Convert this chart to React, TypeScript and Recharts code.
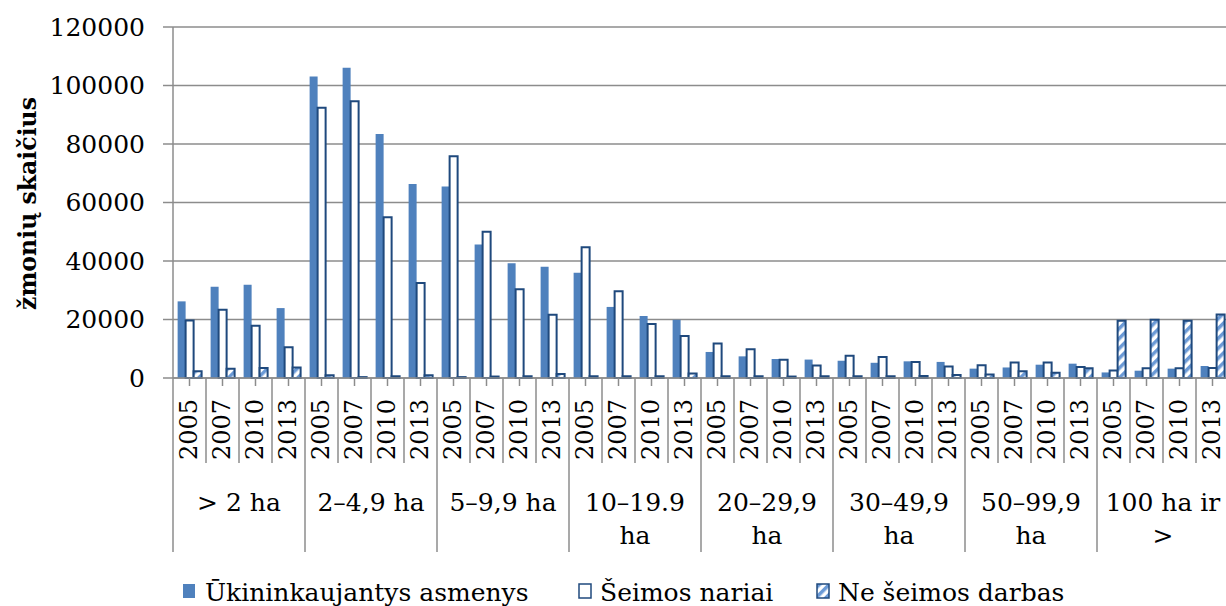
import React from 'react';
import { BarChart, Bar, XAxis, YAxis, CartesianGrid } from 'recharts';

const YEARS = ['2005', '2007', '2010', '2013'];
const GROUPS: string[][] = [
  ['> 2 ha'],
  ['2–4,9 ha'],
  ['5–9,9 ha'],
  ['10–19.9', 'ha'],
  ['20–29,9', 'ha'],
  ['30–49,9', 'ha'],
  ['50–99,9', 'ha'],
  ['100 ha ir', '>'],
];
const FARMERS = [
  26200, 31200, 31900, 23900,
  103100, 106100, 83400, 66300,
  65500, 45600, 39200, 38000,
  36000, 24300, 21200, 19900,
  8900, 7400, 6500, 6300,
  5900, 5200, 5700, 5500,
  3200, 3600, 4550, 4900,
  1900, 2500, 3200, 4100,
];
const FAMILY = [
  19700, 23300, 17900, 10500,
  92400, 94600, 55000, 32500,
  75800, 50000, 30300, 21600,
  44700, 29700, 18500, 14400,
  11800, 9800, 6200, 4300,
  7600, 7200, 5500, 3900,
  4400, 5300, 5300, 3800,
  2600, 3300, 3300, 3400,
];
const NON_FAMILY = [
  2300, 3200, 3400, 3600,
  900, 300, 600, 900,
  300, 500, 600, 1400,
  600, 600, 600, 1500,
  600, 600, 500, 600,
  600, 600, 700, 1000,
  1200, 2300, 1800, 3300,
  19600, 19900, 19600, 21700,
];
const Y_TICKS = [0, 20000, 40000, 60000, 80000, 100000, 120000];
const SERIES_NAMES = ['Ūkininkaujantys asmenys', 'Šeimos nariai', 'Ne šeimos darbas'];
const Y_LABEL = 'žmonių skaičius';

const FONT = 'DejaVu Serif';
const GRID = '#8c8c8c';
const BLUE = '#4F81BD';
const DARK = '#1F497D';
const STRIPE = '#6B9AD6';

const CHART_W = 1229;
const CHART_H = 606;
const LEFT = 173;
const TOP = 27;
const X_AXIS_H = 228;
const BAND = (CHART_W - LEFT) / (GROUPS.length * YEARS.length);

const data = GROUPS.flatMap((g, gi) =>
  YEARS.map((y, yi) => {
    const idx = gi * YEARS.length + yi;
    return {
      idx,
      year: y,
      group: g.join(' '),
      farmers: FARMERS[idx],
      family: FAMILY[idx],
      nonFamily: NON_FAMILY[idx],
    };
  })
);

function XTick(props: any) {
  const { x, y, payload } = props;
  const i: number = typeof payload.index === 'number' ? payload.index : Number(payload.value);
  const yi = i % YEARS.length;
  const gi = Math.floor(i / YEARS.length);
  const left = x - BAND / 2;
  const right = x + BAND / 2;
  const isLast = i === GROUPS.length * YEARS.length - 1;
  return (
    <g>
      <line x1={x} y1={y} x2={x} y2={y + 8} stroke={GRID} strokeWidth={1.5} />
      <line x1={left} y1={y} x2={left} y2={yi === 0 ? y + 174 : y + 85} stroke={GRID} strokeWidth={1.5} />
      {isLast && <line x1={right} y1={y} x2={right} y2={y + 174} stroke={GRID} strokeWidth={1.5} />}
      <text
        x={x + 7.5}
        y={y + 82}
        transform={`rotate(-90, ${x + 7.5}, ${y + 82})`}
        fontFamily={FONT}
        fontSize={24}
        fill="#000"
        textAnchor="start"
      >
        {YEARS[yi]}
      </text>
      {yi === 1 &&
        GROUPS[gi].map((line, li) => (
          <text
            key={li}
            x={right}
            y={y + 133 + li * 33}
            fontFamily={FONT}
            fontSize={25}
            fill="#000"
            textAnchor="middle"
          >
            {line}
          </text>
        ))}
    </g>
  );
}

function YLabel() {
  const cx = 36;
  const cy = 203.5;
  return (
    <text
      x={cx}
      y={cy}
      transform={`rotate(-90, ${cx}, ${cy})`}
      fontFamily={FONT}
      fontWeight="bold"
      fontSize={24}
      fill="#000"
      textAnchor="middle"
      textLength={213}
      lengthAdjust="spacingAndGlyphs"
    >
      {Y_LABEL}
    </text>
  );
}

function LegendOverlay() {
  const items = [
    { sx: 183, tx: 205, fill: BLUE, stroke: 'none' },
    { sx: 579, tx: 600, fill: '#fff', stroke: DARK },
    { sx: 817, tx: 838, fill: 'url(#stripesLegend)', stroke: DARK },
  ];
  return (
    <svg width={1226} height={46} style={{ position: 'absolute', left: 0, top: 560 }}>
      <defs>
        <pattern id="stripesLegend" patternUnits="userSpaceOnUse" width="7" height="7" patternTransform="rotate(45)">
          <rect width="7" height="7" fill="#fff" />
          <rect width="3.5" height="7" fill={STRIPE} />
        </pattern>
      </defs>
      {items.map((it, k) => (
        <g key={k}>
          <rect x={it.sx} y={24} width={12} height={14} fill={it.fill} stroke={it.stroke} strokeWidth={1.5} />
          <text x={it.tx} y={41} fontFamily={FONT} fontSize={25} fill="#000">
            {SERIES_NAMES[k]}
          </text>
        </g>
      ))}
    </svg>
  );
}

export default function App() {
  return (
    <div style={{ position: 'absolute', left: 0, top: 0, width: 1226, height: 606, overflow: 'hidden', background: '#fff' }}>
      <BarChart
        width={CHART_W}
        height={CHART_H}
        data={data}
        margin={{ top: TOP, right: 0, left: 0, bottom: 0 }}
        barCategoryGap="14%"
        barGap={0}
      >
        <defs>
          <pattern id="stripes" patternUnits="userSpaceOnUse" width="7" height="7" patternTransform="rotate(45)">
            <rect width="7" height="7" fill="#fff" />
            <rect width="3.5" height="7" fill={STRIPE} />
          </pattern>
        </defs>
        <CartesianGrid vertical={false} stroke={GRID} strokeWidth={1.5} />
        <XAxis
          dataKey="idx"
          type="category"
          interval={0}
          height={X_AXIS_H}
          tickSize={0}
          tickMargin={0}
          tickLine={false}
          axisLine={{ stroke: GRID, strokeWidth: 1.5 }}
          tick={(p: any) => <XTick {...p} />}
        />
        <YAxis
          width={LEFT}
          domain={[0, 120000]}
          ticks={Y_TICKS}
          interval={0}
          tickSize={10}
          tickMargin={18}
          axisLine={{ stroke: GRID, strokeWidth: 1.5 }}
          tickLine={{ stroke: GRID, strokeWidth: 1.5 }}
          tick={{ fill: '#000', fontSize: 25, fontFamily: FONT }}
          label={<YLabel />}
        />
        <Bar dataKey="farmers" name={SERIES_NAMES[0]} fill={BLUE} isAnimationActive={false} />
        <Bar dataKey="family" name={SERIES_NAMES[1]} fill="#fff" stroke={DARK} strokeWidth={2} isAnimationActive={false} />
        <Bar dataKey="nonFamily" name={SERIES_NAMES[2]} fill="url(#stripes)" stroke={DARK} strokeWidth={2} isAnimationActive={false} />
      </BarChart>
      <LegendOverlay />
    </div>
  );
}
